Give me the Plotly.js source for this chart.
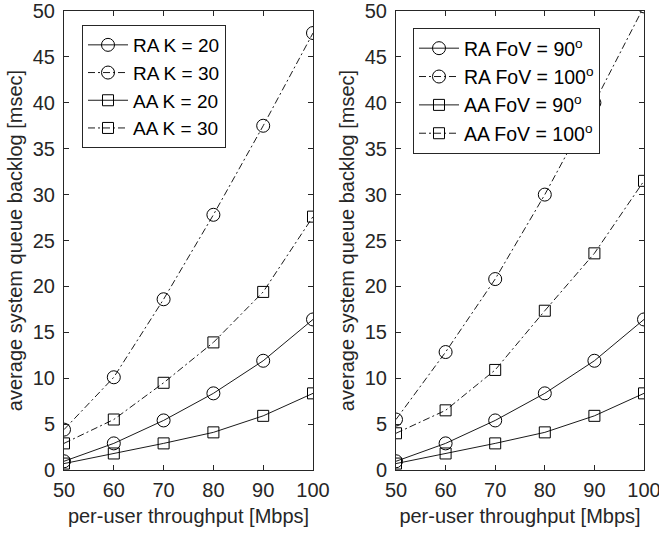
<!DOCTYPE html>
<html>
<head>
<meta charset="utf-8">
<script src="https://cdn.plot.ly/plotly-3.0.1.min.js"></script>
<style>html,body{margin:0;padding:0;background:#fff;}#chart{width:659px;height:539px;}</style>
</head>
<body>
<div id="chart"></div>
<script>
const throughput = [50, 60, 70, 80, 90, 100];

// Left panel
const raK20 = [0.95, 2.9, 5.4, 8.35, 11.9, 16.4];
const raK30 = [4.4, 10.1, 18.6, 27.8, 37.5, 47.6];
const aaK20 = [0.7, 1.8, 2.9, 4.1, 5.9, 8.35];
const aaK30 = [2.9, 5.5, 9.5, 13.9, 19.4, 27.6];

// Right panel
const raFov90 = [0.95, 2.9, 5.4, 8.35, 11.9, 16.4];
const raFov100 = [5.5, 12.85, 20.8, 30.0, 40.0, 50.5];
const aaFov90 = [0.7, 1.8, 2.9, 4.1, 5.9, 8.35];
const aaFov100 = [4.0, 6.5, 10.9, 17.35, 23.6, 31.5];

const leftNames = ['RA K = 20', 'RA K = 30', 'AA K = 20', 'AA K = 30'];
const rightNames = ['RA FoV = 90<sup>o</sup>', 'RA FoV = 100<sup>o</sup>', 'AA FoV = 90<sup>o</sup>', 'AA FoV = 100<sup>o</sup>'];

const ink = '#000000';
const axisInk = '#262626';
const dashDot = '7px,3px,2px,3px';

function tr(y, name, sym, dashed, xa, ya, leg) {
  return {
    x: throughput, y: y, name: name, type: 'scatter', mode: 'lines+markers',
    xaxis: xa, yaxis: ya, legend: leg,
    line: {color: ink, width: 0.9, dash: dashed ? dashDot : 'solid'},
    marker: {symbol: sym === 'o' ? 'circle-open' : 'square-open',
             size: sym === 'o' ? 13 : 11, color: ink, line: {color: ink, width: 1}}
  };
}

const data = [
  tr(raK20, leftNames[0], 'o', false, 'x', 'y', 'legend'),
  tr(raK30, leftNames[1], 'o', true, 'x', 'y', 'legend'),
  tr(aaK20, leftNames[2], 's', false, 'x', 'y', 'legend'),
  tr(aaK30, leftNames[3], 's', true, 'x', 'y', 'legend'),
  tr(raFov90, rightNames[0], 'o', false, 'x2', 'y2', 'legend2'),
  tr(raFov100, rightNames[1], 'o', true, 'x2', 'y2', 'legend2'),
  tr(aaFov90, rightNames[2], 's', false, 'x2', 'y2', 'legend2'),
  tr(aaFov100, rightNames[3], 's', true, 'x2', 'y2', 'legend2')
];

const fam = 'Liberation Sans, Arial, sans-serif';
const font = {family: fam, size: 20, color: axisInk};

function xax(domain, anchor) {
  return {
    domain: domain, anchor: anchor, range: [50, 100], dtick: 10, tick0: 50,
    showline: true, mirror: 'ticks', linecolor: axisInk, linewidth: 1,
    ticks: 'inside', ticklen: 5, tickcolor: axisInk, showgrid: false, zeroline: false,
    tickfont: {family: fam, size: 20, color: axisInk}, automargin: false,
    ticklabeloverflow: 'allow', ticklabelstandoff: 2,
    title: {text: 'per-user throughput [Mbps]', font: {family: fam, size: 20, color: axisInk}, standoff: 8}
  };
}
function yax(domain, anchor) {
  return {
    domain: domain, anchor: anchor, range: [0, 50], dtick: 5, tick0: 0,
    showline: true, mirror: 'ticks', linecolor: axisInk, linewidth: 1,
    ticks: 'inside', ticklen: 5, tickcolor: axisInk, showgrid: false, zeroline: false,
    tickfont: {family: fam, size: 20, color: axisInk}, automargin: false,
    ticklabeloverflow: 'allow', ticklabelstandoff: 4,
    title: {text: 'average system queue backlog [msec]', font: {family: fam, size: 20, color: axisInk}, standoff: 4}
  };
}

const yDom = [1 - 470 / 539, 1 - 11 / 539];
const layout = {
  width: 659, height: 539,
  margin: {l: 0, r: 0, t: 0, b: 0},
  paper_bgcolor: '#ffffff', plot_bgcolor: '#ffffff',
  font: font,
  xaxis: xax([64 / 659, 313 / 659], 'y'),
  yaxis: yax(yDom, 'x'),
  xaxis2: xax([396 / 659, 644 / 659], 'y2'),
  yaxis2: yax(yDom, 'x2'),
  legend: {x: 82 / 659, y: 1 - 25 / 539, xanchor: 'left', yanchor: 'top',
           bgcolor: '#ffffff', bordercolor: axisInk, borderwidth: 1,
           font: {family: fam, size: 19, color: '#000'}, itemwidth: 40},
  legend2: {x: 413 / 659, y: 1 - 28 / 539, xanchor: 'left', yanchor: 'top',
            bgcolor: '#ffffff', bordercolor: axisInk, borderwidth: 1,
            font: {family: fam, size: 19.5, color: '#000'}, itemwidth: 40},
  showlegend: true
};

Plotly.newPlot('chart', data, layout, {displayModeBar: false, staticPlot: true});
</script>
</body>
</html>
